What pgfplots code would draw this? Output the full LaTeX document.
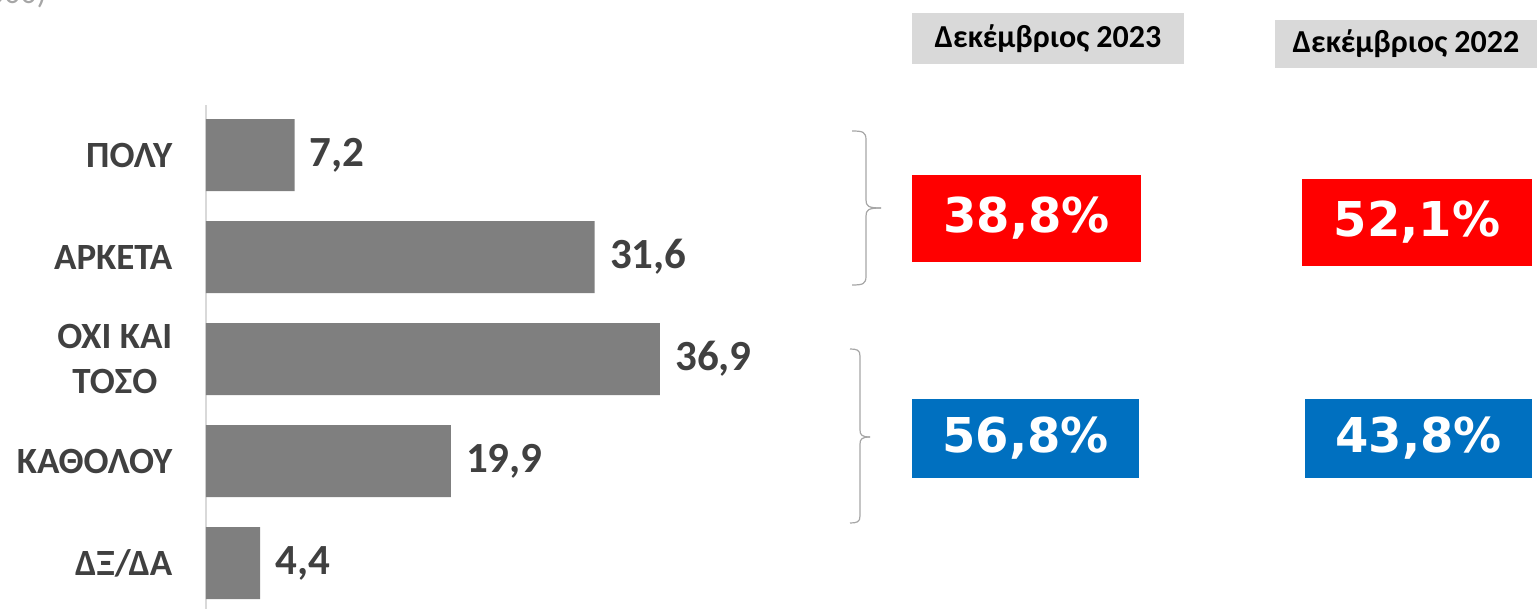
\documentclass[border=0pt]{standalone}
\usepackage{fontspec}
\setmainfont{Carlito}
\newfontfamily\dvb{DejaVu Sans}
\usepackage{pgfplots}
\pgfplotsset{compat=1.18}
\definecolor{barg}{HTML}{7F7F7F}
\definecolor{txtg}{HTML}{404040}
\definecolor{hdrg}{HTML}{D9D9D9}
\definecolor{bred}{HTML}{FF0000}
\definecolor{bblue}{HTML}{0070C0}
\definecolor{brc}{HTML}{A6A6A6}
\begin{document}
\begin{tikzpicture}[x=0.5pt,y=-0.5pt]
\useasboundingbox (0,0) rectangle (1537,609);
\begin{axis}[
  at={(103pt,-304.5pt)}, anchor=south west,
  scale only axis, width=307.5pt, height=251.94pt,
  xmin=0, xmax=50, ymin=-0.49, ymax=4.45,
  y dir=reverse,
  xbar, bar width=36pt,
  axis x line=none, axis y line=left,
  y axis line style={-, draw=hdrg, line width=1pt},
  ytick={0,1,2,3,4},
  yticklabels={ΠΟΛΥ,ΑΡΚΕΤΑ,{ΟΧΙ ΚΑΙ\\ΤΟΣΟ},ΚΑΘΟΛΟΥ,ΔΞ/ΔΑ},
  ytick style={draw=none},
  yticklabel style={font=\fontsize{18.5}{22.5}\selectfont\bfseries, text=txtg, align=center, inner sep=0pt, xshift=-14.5pt},
  clip=false,
  nodes near coords,
  nodes near coords align=horizontal,
  /pgf/number format/assume math mode=true,
  /pgf/number format/.cd, use comma, fixed, fixed zerofill, precision=1, /pgfplots/.cd,
  every node near coord/.append style={font=\fontsize{21.5}{25}\selectfont\bfseries, text=txtg, anchor=west, inner sep=0pt, xshift=7.5pt},
]
\addplot[fill=barg, draw=none] coordinates {(7.2,0) (31.6,1) (36.9,2) (19.9,3) (4.4,4)};
\end{axis}
% top-left fragment
\node[anchor=base east, text=brc, font=\fontsize{16}{18}\selectfont, inner sep=0pt] at (47,4) {1000)};
% braces
\begin{scope}[draw=brc, line width=0.6pt]
\draw (852,131) .. controls (863,131) and (866,132) .. (866,140) -- (866,200) .. controls (866,206) and (868,208) .. (881,208);
\draw (852,285) .. controls (863,285) and (866,284) .. (866,276) -- (866,216) .. controls (866,210) and (868,208) .. (881,208);
\draw (850,349) .. controls (857,349) and (860,350) .. (860,356) -- (860,430) .. controls (860,435) and (862,437) .. (870,437);
\draw (850,523) .. controls (857,523) and (860,522) .. (860,516) -- (860,444) .. controls (860,439) and (862,437) .. (870,437);
\end{scope}
% headers
\fill[hdrg] (912,13) rectangle (1184,64);
\node[font=\fontsize{16}{19}\selectfont\bfseries] at (1048,38.5) {Δεκέμβριος 2023};
\fill[hdrg] (1275,20) rectangle (1537,68);
\node[font=\fontsize{16}{19}\selectfont\bfseries] at (1406,44) {Δεκέμβριος 2022};
% percentage boxes
\fill[bred] (912,175) rectangle (1141,262);
\node[text=white, font=\dvb\fontsize{24}{28}\selectfont\bfseries] at (1026.5,218.5) {38,8\%};
\fill[bred] (1302,179) rectangle (1532,266);
\node[text=white, font=\dvb\fontsize{24}{28}\selectfont\bfseries] at (1417,222.5) {52,1\%};
\fill[bblue] (912,399) rectangle (1139,478);
\node[text=white, font=\dvb\fontsize{24}{28}\selectfont\bfseries] at (1025.5,438.5) {56,8\%};
\fill[bblue] (1305,399) rectangle (1532,478);
\node[text=white, font=\dvb\fontsize{24}{28}\selectfont\bfseries] at (1418.5,438.5) {43,8\%};
\end{tikzpicture}
\end{document}
